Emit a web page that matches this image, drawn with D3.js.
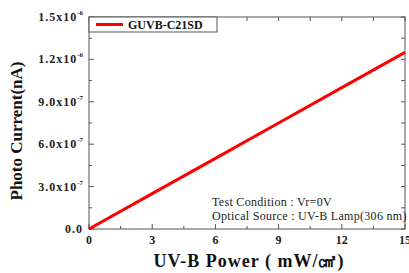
<!DOCTYPE html>
<html>
<head>
<meta charset="utf-8">
<script src="https://cdn.jsdelivr.net/npm/d3@7"></script>
<style>
body { margin: 0; background: #fff; }
text { font-family: "Liberation Serif", "Times New Roman", serif; }
</style>
</head>
<body>
<div id="chart-area"></div>
<script>
var powerValues = [0, 3, 6, 9, 12, 15];
var currentValues = [0, 0.25e-6, 0.5e-6, 0.75e-6, 1.0e-6, 1.25e-6];
var yTickValues = [0, 3e-7, 6e-7, 9e-7, 1.2e-6, 1.5e-6];
var yTickLabels = ["0.0", "3.0x10", "6.0x10", "9.0x10", "1.2x10", "1.5x10"];
var yTickExps = ["", "-7", "-7", "-7", "-6", "-6"];
var xTickValues = [0, 3, 6, 9, 12, 15];
var seriesName = "GUVB-C21SD";
var noteLines = ["Test Condition : Vr=0V", "Optical Source : UV-B Lamp(306 nm)"];

var margin = {left: 89, right: 4, top: 17, bottom: 44};
var width = 409 - margin.left - margin.right;
var height = 273 - margin.top - margin.bottom;

var svg = d3.select("#chart-area")
	.append("svg")
	.attr("width", 409)
	.attr("height", 273);

var g = svg.append("g")
	.attr("transform", "translate(" + margin.left + ", " + margin.top + ")");

var x = d3.scaleLinear()
	.domain([0, 15])
	.range([0, width]);

var y = d3.scaleLinear()
	.domain([0, 1.5e-6])
	.range([height, 0]);

var axisColor = "#555";

// frame
g.append("rect")
	.attr("width", width)
	.attr("height", height)
	.attr("fill", "none")
	.attr("stroke", axisColor)
	.attr("stroke-width", 1);

// ticks, pointing inward
var xMinor = d3.range(0, 15.01, 1.5);
var yMinor = d3.range(0, 1.5e-6 + 1e-9, 1.5e-7);

xMinor.forEach((v, i) => {
	var len = (i % 2 == 0) ? 5 : 3;
	g.append("line").attr("x1", x(v)).attr("x2", x(v))
		.attr("y1", height).attr("y2", height - len)
		.attr("stroke", axisColor);
	g.append("line").attr("x1", x(v)).attr("x2", x(v))
		.attr("y1", 0).attr("y2", 4)
		.attr("stroke", axisColor);
});

yMinor.forEach((v, i) => {
	var len = (i % 2 == 0) ? 5 : 3;
	g.append("line").attr("x1", 0).attr("x2", len)
		.attr("y1", y(v)).attr("y2", y(v))
		.attr("stroke", axisColor);
	g.append("line").attr("x1", width).attr("x2", width - 4)
		.attr("y1", y(v)).attr("y2", y(v))
		.attr("stroke", axisColor);
});

// y tick labels
yTickValues.forEach((v, i) => {
	var t = g.append("text")
		.attr("x", -6)
		.attr("y", y(v) + 4)
		.attr("text-anchor", "end")
		.attr("font-size", "12px")
		.attr("font-weight", "bold")
		.attr("letter-spacing", "1px")
		.attr("fill", "#222");
	if (yTickExps[i] == "") {
		t.text(yTickLabels[i]);
	} else {
		t.append("tspan").text(yTickLabels[i]);
		t.append("tspan")
			.attr("dy", -6)
			.attr("font-size", "7px")
			.attr("letter-spacing", "0px")
			.text(yTickExps[i]);
	}
});

// x tick labels
xTickValues.forEach((v) => {
	g.append("text")
		.attr("x", x(v))
		.attr("y", height + 15)
		.attr("text-anchor", "middle")
		.attr("font-size", "12px")
		.attr("font-weight", "bold")
		.attr("fill", "#222")
		.text(v);
});

// series line
var line = d3.line()
	.x((d, i) => x(powerValues[i]))
	.y((d) => y(d));

g.append("path")
	.datum(currentValues)
	.attr("d", line)
	.attr("fill", "none")
	.attr("stroke", "#f00")
	.attr("stroke-width", 3);

// legend
var legend = g.append("g");
legend.append("rect")
	.attr("x", 0)
	.attr("y", 0)
	.attr("width", 128)
	.attr("height", 15)
	.attr("fill", "#fff")
	.attr("stroke", axisColor);
legend.append("line")
	.attr("x1", 7).attr("x2", 34)
	.attr("y1", 7.5).attr("y2", 7.5)
	.attr("stroke", "#f00")
	.attr("stroke-width", 3);
legend.append("text")
	.attr("x", 39)
	.attr("y", 12)
	.attr("font-size", "12px")
	.attr("font-weight", "bold")
	.attr("fill", "#111")
	.text(seriesName);

// note
noteLines.forEach((s, i) => {
	g.append("text")
		.attr("x", 123)
		.attr("y", 189 + i * 14)
		.attr("font-size", "12px")
		.attr("letter-spacing", "0.3px")
		.attr("fill", "#222")
		.text(s);
});

// axis labels
svg.append("text")
	.attr("x", -131)
	.attr("y", 22)
	.attr("transform", "rotate(-90)")
	.attr("text-anchor", "middle")
	.attr("font-size", "17px")
	.attr("font-weight", "bold")
	.attr("fill", "#111")
	.text("Photo Current(nA)");

svg.append("text")
	.attr("x", 249)
	.attr("y", 267)
	.attr("text-anchor", "middle")
	.attr("font-size", "18px")
	.attr("font-weight", "bold")
	.attr("letter-spacing", "1px")
	.attr("fill", "#111")
	.text("UV-B Power ( mW/㎠)");
</script>
</body>
</html>
